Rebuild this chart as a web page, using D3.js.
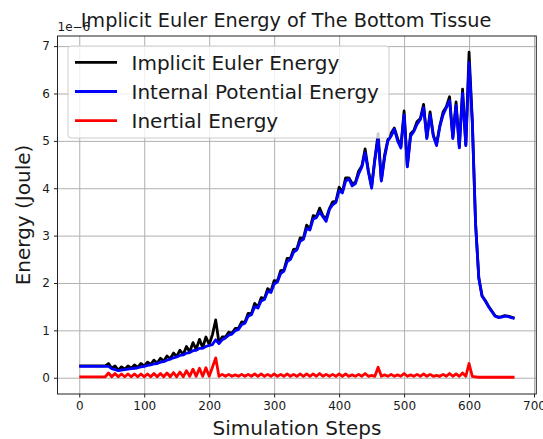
<!DOCTYPE html>
<html>
<head>
<meta charset="utf-8">
<script src="https://cdn.jsdelivr.net/npm/d3@7"></script>
<style>
  body { margin: 0; background: #fff; }
  svg text { font-family: "DejaVu Sans", sans-serif; fill: #1a1a1a; }
</style>
</head>
<body>
<div id="container"></div>
<script>
/* DATA (energies in 1e-6 J) */
const steps = [
  0, 5, 10, 15, 20, 25, 30, 35, 40, 45, 50, 55, 60, 65, 70, 75, 80, 85, 90, 95,
  100, 105, 110, 115, 120, 125, 130, 135, 140, 145, 150, 155, 160, 165, 170, 175, 180, 185, 190, 195,
  200, 205, 210, 215, 220, 225, 230, 235, 240, 245, 250, 255, 260, 265, 270, 275, 280, 285, 290, 295,
  300, 305, 310, 315, 320, 325, 330, 335, 340, 345, 350, 355, 360, 365, 370, 375, 380, 385, 390, 395,
  400, 405, 410, 415, 420, 425, 430, 435, 440, 445, 450, 455, 460, 465, 470, 475, 480, 485, 490, 495,
  500, 505, 510, 515, 520, 525, 530, 535, 540, 545, 550, 555, 560, 565, 570, 575, 580, 585, 590, 595,
  600, 605, 610, 615, 620, 625, 630, 635, 640, 645, 650, 655, 660, 665, 670
]

const implicitEuler = [
  0.25, 0.25, 0.25, 0.25, 0.25, 0.25, 0.25, 0.25, 0.25, 0.30, 0.20, 0.25, 0.16, 0.23, 0.18, 0.25, 0.20, 0.27, 0.22, 0.30,
  0.25, 0.33, 0.28, 0.37, 0.31, 0.41, 0.35, 0.46, 0.40, 0.52, 0.45, 0.58, 0.49, 0.66, 0.55, 0.74, 0.60, 0.81, 0.64, 0.86,
  0.70, 0.91, 1.22, 0.74, 0.86, 0.86, 0.96, 0.94, 1.04, 1.04, 1.18, 1.17, 1.36, 1.35, 1.57, 1.49, 1.69, 1.67, 1.88, 1.82,
  2.05, 2.04, 2.26, 2.27, 2.52, 2.52, 2.71, 2.72, 2.95, 2.94, 3.22, 3.14, 3.42, 3.40, 3.58, 3.42, 3.36, 3.57, 3.71, 3.72,
  4.02, 3.92, 4.22, 4.22, 4.10, 4.12, 4.36, 4.47, 4.83, 4.37, 4.04, 4.62, 5.15, 4.17, 4.70, 5.02, 5.16, 5.27, 5.05, 4.87,
  5.63, 4.47, 5.15, 5.22, 5.41, 5.47, 5.77, 5.07, 5.61, 5.12, 4.94, 5.32, 5.61, 5.72, 5.93, 5.07, 5.82, 4.87, 6.09, 4.92,
  6.87, 5.42, 3.26, 2.11, 1.73, 1.63, 1.51, 1.41, 1.31, 1.28, 1.29, 1.31, 1.30, 1.28, 1.26
]

const internalPotential = [
  0.24, 0.24, 0.24, 0.24, 0.24, 0.24, 0.24, 0.24, 0.24, 0.24, 0.19, 0.17, 0.15, 0.16, 0.17, 0.18, 0.19, 0.20, 0.21, 0.23,
  0.24, 0.26, 0.27, 0.29, 0.30, 0.33, 0.34, 0.37, 0.39, 0.42, 0.44, 0.47, 0.48, 0.52, 0.53, 0.57, 0.58, 0.62, 0.62, 0.66,
  0.68, 0.70, 0.80, 0.72, 0.80, 0.84, 0.90, 0.92, 0.99, 1.02, 1.12, 1.15, 1.30, 1.33, 1.50, 1.47, 1.62, 1.65, 1.82, 1.80,
  1.98, 2.02, 2.20, 2.25, 2.45, 2.50, 2.65, 2.70, 2.88, 2.92, 3.15, 3.12, 3.35, 3.38, 3.50, 3.40, 3.30, 3.55, 3.65, 3.70,
  3.95, 3.90, 4.15, 4.20, 4.05, 4.10, 4.30, 4.45, 4.75, 4.35, 4.00, 4.60, 5.05, 4.15, 4.65, 5.00, 5.10, 5.25, 5.00, 4.85,
  5.55, 4.45, 5.10, 5.20, 5.35, 5.45, 5.70, 5.05, 5.55, 5.10, 4.90, 5.30, 5.55, 5.70, 5.85, 5.05, 5.75, 4.85, 6.00, 4.90,
  6.65, 5.40, 3.25, 2.10, 1.72, 1.62, 1.50, 1.40, 1.30, 1.27, 1.28, 1.30, 1.29, 1.27, 1.25
]

const inertial = [
  0.02, 0.02, 0.02, 0.02, 0.02, 0.02, 0.02, 0.02, 0.02, 0.10, 0.02, 0.09, 0.02, 0.08, 0.02, 0.08, 0.02, 0.08, 0.02, 0.08,
  0.02, 0.08, 0.02, 0.09, 0.02, 0.09, 0.02, 0.10, 0.02, 0.11, 0.02, 0.12, 0.02, 0.15, 0.03, 0.18, 0.03, 0.20, 0.03, 0.21,
  0.03, 0.22, 0.42, 0.03, 0.07, 0.03, 0.07, 0.03, 0.06, 0.03, 0.07, 0.03, 0.07, 0.03, 0.08, 0.03, 0.08, 0.03, 0.07, 0.03,
  0.08, 0.03, 0.07, 0.03, 0.08, 0.03, 0.07, 0.03, 0.08, 0.03, 0.08, 0.03, 0.08, 0.03, 0.09, 0.03, 0.07, 0.03, 0.07, 0.03,
  0.08, 0.03, 0.08, 0.03, 0.06, 0.03, 0.07, 0.03, 0.09, 0.03, 0.05, 0.03, 0.22, 0.03, 0.06, 0.03, 0.07, 0.03, 0.06, 0.03,
  0.09, 0.03, 0.06, 0.03, 0.07, 0.03, 0.08, 0.03, 0.07, 0.03, 0.05, 0.03, 0.07, 0.03, 0.09, 0.03, 0.08, 0.03, 0.10, 0.03,
  0.30, 0.03, 0.02, 0.01, 0.01, 0.01, 0.01, 0.01, 0.01, 0.01, 0.01, 0.01, 0.01, 0.01, 0.01
]

const xTicks = [0, 100, 200, 300, 400, 500, 600, 700]
const yTicks = [0, 1, 2, 3, 4, 5, 6, 7]

const seriesNames = ["Implicit Euler Energy", "Internal Potential Energy", "Inertial Energy"]
const seriesColors = ["black", "blue", "red"]
const seriesValues = [implicitEuler, internalPotential, inertial]

/* LAYOUT */
const width = 543, height = 439
const plot = { left: 57.5, right: 536.3, top: 36, bottom: 394 }

const svg = d3.select("#container")
  .append("svg")
  .attr("width", width)
  .attr("height", height)

svg.append("rect")
  .attr("width", width)
  .attr("height", height)
  .attr("fill", "white")

// SCALES (matplotlib-like 5% margins)
const x = d3.scaleLinear()
  .domain([-33.5, 703.5])
  .range([plot.left, plot.right])

const y = d3.scaleLinear()
  .domain([-0.3435, 7.2135])
  .range([plot.bottom, plot.top])

// GRID
svg.append("g")
  .attr("transform", `translate(0, ${plot.bottom})`)
  .call(d3.axisBottom(x).tickValues(xTicks).tickSize(-(plot.bottom - plot.top)).tickFormat(""))
  .call(g => g.select(".domain").remove())
  .call(g => g.selectAll("line").attr("stroke", "#b0b0b0").attr("stroke-width", 1))

svg.append("g")
  .attr("transform", `translate(${plot.left}, 0)`)
  .call(d3.axisLeft(y).tickValues(yTicks).tickSize(-(plot.right - plot.left)).tickFormat(""))
  .call(g => g.select(".domain").remove())
  .call(g => g.selectAll("line").attr("stroke", "#b0b0b0").attr("stroke-width", 1))

// LINES
const lineGen = (vals) => d3.line()
  .x((d, i) => x(steps[i]))
  .y(d => y(d))(vals)

svg.append("g")
  .selectAll("path.series")
  .data(seriesValues)
  .join("path")
  .attr("class", "series")
  .attr("d", d => lineGen(d))
  .attr("fill", "none")
  .attr("stroke", (d, i) => seriesColors[i])
  .attr("stroke-width", 2.8)
  .attr("stroke-linejoin", "round")

// AXES
const xAxis = svg.append("g")
  .attr("transform", `translate(0, ${plot.bottom})`)
  .call(d3.axisBottom(x).tickValues(xTicks).tickSize(3.5).tickPadding(3.5))

const yAxis = svg.append("g")
  .attr("transform", `translate(${plot.left}, 0)`)
  .call(d3.axisLeft(y).tickValues(yTicks).tickSize(3.5).tickPadding(4))

;[xAxis, yAxis].forEach(g => {
  g.selectAll(".domain").remove()
  g.selectAll("line").attr("stroke", "#222")
  g.selectAll("text").attr("font-size", "12px").attr("font-family", "DejaVu Sans, sans-serif").attr("fill", "#1a1a1a")
})

// FRAME
svg.append("rect")
  .attr("x", plot.left)
  .attr("y", plot.top)
  .attr("width", plot.right - plot.left)
  .attr("height", plot.bottom - plot.top)
  .attr("fill", "none")
  .attr("stroke", "#222")
  .attr("stroke-width", 1)

// TEXTS
svg.append("text")
  .attr("x", 286)
  .attr("y", 27)
  .attr("text-anchor", "middle")
  .attr("font-size", "19.3px")
  .text("Implicit Euler Energy of The Bottom Tissue")

svg.append("text")
  .attr("x", plot.left)
  .attr("y", 31)
  .attr("font-size", "12px")
  .text("1e\u22126")

svg.append("text")
  .attr("x", (plot.left + plot.right) / 2)
  .attr("y", 435)
  .attr("text-anchor", "middle")
  .attr("font-size", "20px")
  .text("Simulation Steps")

svg.append("text")
  .attr("transform", `translate(30, ${(plot.top + plot.bottom) / 2}) rotate(-90)`)
  .attr("text-anchor", "middle")
  .attr("font-size", "20px")
  .text("Energy (Joule)")

// LEGEND
const legend = svg.append("g")

legend.append("rect")
  .attr("x", 68)
  .attr("y", 46)
  .attr("width", 321)
  .attr("height", 92)
  .attr("rx", 3)
  .attr("fill", "white")
  .attr("fill-opacity", 0.8)
  .attr("stroke", "#cccccc")

const items = legend.selectAll("g.item")
  .data(seriesNames)
  .join("g")
  .attr("class", "item")
  .attr("transform", (d, i) => `translate(0, ${62.3 + i * 29.2})`)

items.append("line")
  .attr("x1", 75)
  .attr("x2", 117)
  .attr("stroke", (d, i) => seriesColors[i])
  .attr("stroke-width", 2.8)

items.append("text")
  .attr("x", 131.5)
  .attr("dy", "0.36em")
  .attr("font-size", "20px")
  .text(d => d)
</script>
</body>
</html>
